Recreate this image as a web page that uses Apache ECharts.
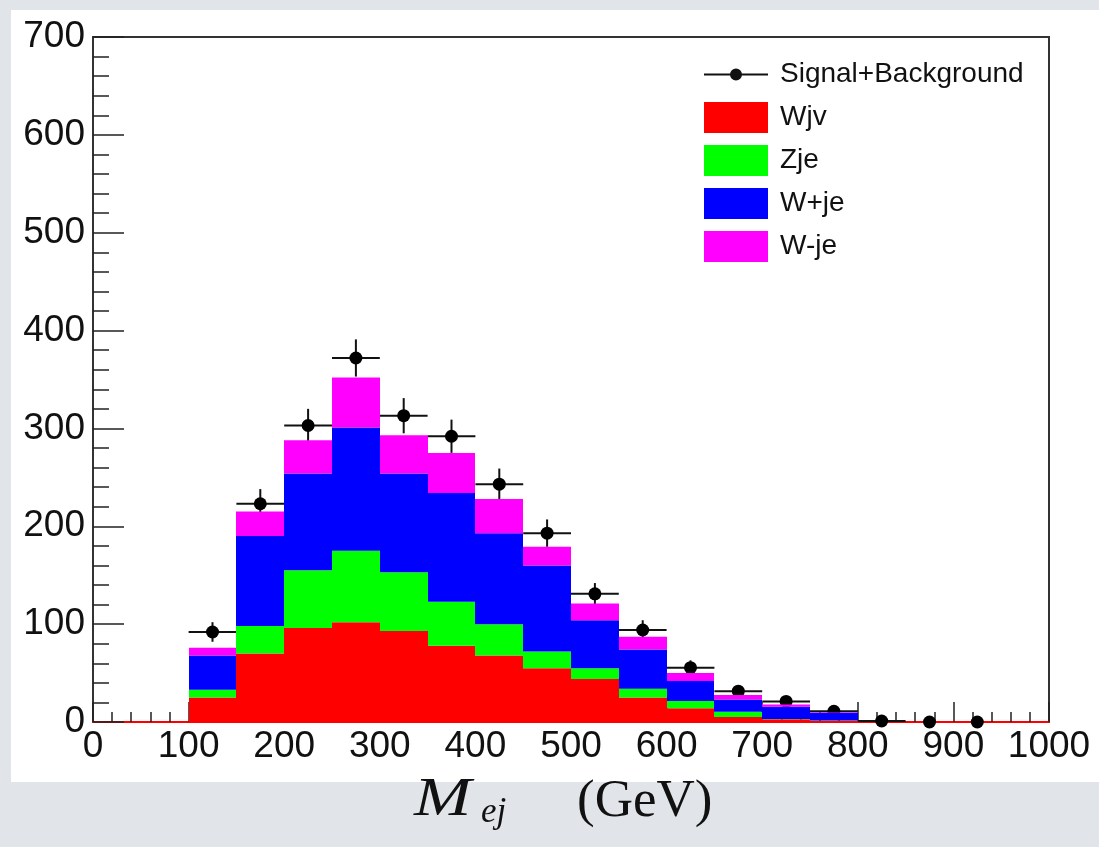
<!DOCTYPE html>
<html>
<head>
<meta charset="utf-8">
<script src="https://cdn.jsdelivr.net/npm/echarts@6/dist/echarts.min.js"></script>
<style>
    html, body { margin: 0; padding: 0; background: #e1e4e8; }
    #chart { width: 1099px; height: 847px; }
</style>
</head>
<body>
<div id="chart"></div>
<script>
// bins are 50 GeV wide, the numbers are the lower edges
const binStarts = [100, 150, 200, 250, 300, 350, 400, 450, 500, 550, 600, 650, 700, 750];
const binWidth = 50;

// stacked backgrounds, each value is the layer's own height
const wjv = [25, 70, 96, 102, 93, 78, 68, 55, 44, 25, 14, 5, 2.7, 1.4];
const zje = [8, 28, 59, 73, 60, 45, 32, 17, 11, 9, 7.5, 5.5, 0.3, 0.1];
const wPlusJe = [35, 92, 99, 126, 101, 111, 93, 88, 49, 40, 20.5, 12.5, 12.5, 8];
const wMinusJe = [8, 25, 34, 51, 39, 41, 35, 19, 17, 13, 8, 4.5, 2.5, 0.5];

// Signal+Background points (bin centres) and their vertical error bars
const pointX = [125, 175, 225, 275, 325, 375, 425, 475, 525, 575, 625, 675, 725, 775, 825, 875, 925];
const pointY = [92, 223, 303, 372, 313, 292, 243, 193, 131, 94, 55.5, 31.5, 21, 11, 1, 0, 0];
const pointErr = [10, 15, 17, 19, 18, 17, 16, 14, 11, 10, 7.5, 5.6, 4.6, 3.3, 1, 0, 0];

const xTicks = [0, 1000, 100];
const yTicks = [0, 700, 100];

const layers = [
    { name: 'Wjv', values: wjv, color: '#ff0000' },
    { name: 'Zje', values: zje, color: '#00ff00' },
    { name: 'W+je', values: wPlusJe, color: '#0000ff' },
    { name: 'W-je', values: wMinusJe, color: '#ff00ff' }
];

// [x0, x1, base, top] for each layer
const base = binStarts.map(() => 0);
const stackData = layers.map(layer => {
    return binStarts.map((x, i) => {
        const b = base[i];
        base[i] = b + layer.values[i];
        return [x, x + binWidth, b, base[i]];
    });
});

function histItem(params, api) {
    const p0 = api.coord([api.value(0), api.value(3)]);
    const p1 = api.coord([api.value(1), api.value(2)]);
    const x0 = Math.round(p0[0]), x1 = Math.round(p1[0]);
    return {
        type: 'rect',
        shape: { x: x0, y: p0[1], width: x1 - x0, height: p1[1] - p0[1] },
        style: { fill: api.visual('color') }
    };
}

function pointItem(params, api) {
    const x = api.value(0), y = api.value(1), e = api.value(2);
    const c = api.coord([x, y]);
    const children = [];
    if (y > 0) {
        const l = api.coord([x - binWidth / 2, y]);
        const r = api.coord([x + binWidth / 2, y]);
        const t = api.coord([x, y + e]);
        const b = api.coord([x, y - e]);
        children.push({ type: 'line', shape: { x1: l[0], y1: l[1], x2: r[0], y2: r[1] }, style: { stroke: '#111', lineWidth: 2 } });
        children.push({ type: 'line', shape: { x1: t[0], y1: t[1], x2: b[0], y2: b[1] }, style: { stroke: '#111', lineWidth: 2 } });
    }
    children.push({ type: 'circle', shape: { cx: c[0], cy: c[1], r: 6.5 }, style: { fill: '#000' } });
    return { type: 'group', children: children };
}

const labelFont = '"Liberation Sans", Arial, Helvetica, sans-serif';
const serif = '"Liberation Serif", "Times New Roman", serif';
const tickStyle = { color: '#222', width: 1.5 };

const chart = echarts.init(document.getElementById('chart'));

const series = layers.map((layer, k) => ({
    name: layer.name,
    type: 'custom',
    z: 3,
    renderItem: histItem,
    itemStyle: { color: layer.color },
    data: stackData[k],
    silent: true
}));
series.unshift({
    name: 'Signal+Background',
    type: 'custom',
    z: 2,
    clip: false,
    renderItem: pointItem,
    itemStyle: { color: '#000' },
    data: pointX.map((x, i) => [x, pointY[i], pointErr[i]]),
    silent: true
});

const option = {
    animation: false,
    backgroundColor: 'transparent',
    graphic: [
        { type: 'rect', z: -10, shape: { x: 11, y: 10, width: 1088, height: 772 }, style: { fill: '#fff' }, silent: true },
        { type: 'text', x: 414, y: 801, scaleX: 1.25, style: { text: 'M', font: 'italic 55px ' + serif, fill: '#111', verticalAlign: 'middle' } },
        { type: 'text', x: 481, y: 813, style: { text: 'ej', font: 'italic 35px ' + serif, fill: '#111', verticalAlign: 'middle' } },
        { type: 'text', x: 577, y: 802, style: { text: '(GeV)', font: '53px ' + serif, fill: '#111', verticalAlign: 'middle' } }
    ],
    legend: {
        orient: 'vertical',
        left: 704,
        top: 59,
        padding: 0,
        itemWidth: 64,
        itemHeight: 31,
        itemGap: 12,
        selectedMode: false,
        textStyle: { fontFamily: labelFont, fontSize: 28, color: '#111', padding: [0, 0, 0, 7] },
        data: [
            {
                name: 'Signal+Background',
                icon: 'path://M0,0h0.01v0.01h-0.01Z M63.99,30.99h0.01v0.01h-0.01Z M0,14.5h64v2h-64Z M26,15.5a6,6 0 1,1 12,0a6,6 0 1,1 -12,0Z',
                itemStyle: { color: '#111' }
            },
            { name: 'Wjv', icon: 'rect' },
            { name: 'Zje', icon: 'rect' },
            { name: 'W+je', icon: 'rect' },
            { name: 'W-je', icon: 'rect' }
        ]
    },
    grid: {
        left: 93,
        right: 50,
        top: 37,
        bottom: 125,
        show: true,
        borderColor: '#333',
        borderWidth: 2,
        backgroundColor: 'transparent'
    },
    xAxis: {
        type: 'value',
        min: xTicks[0],
        max: xTicks[1],
        interval: xTicks[2],
        splitLine: { show: false },
        axisLine: { lineStyle: { color: '#ff0000', width: 2 } },
        axisTick: { inside: true, length: 20, lineStyle: tickStyle },
        minorTick: { show: true, splitNumber: 5, length: 10, lineStyle: tickStyle },
        axisLabel: {
            fontFamily: labelFont, fontSize: 37, color: '#111', margin: 6,
            showMinLabel: true, showMaxLabel: true,
            formatter: v => String(v)
        }
    },
    yAxis: {
        type: 'value',
        min: yTicks[0],
        max: yTicks[1],
        interval: yTicks[2],
        splitLine: { show: false },
        axisLine: { lineStyle: { color: '#333', width: 2 } },
        axisTick: { inside: true, length: 31, lineStyle: tickStyle },
        minorTick: { show: true, splitNumber: 5, length: 16, lineStyle: tickStyle },
        axisLabel: { fontFamily: labelFont, fontSize: 37, color: '#111', margin: 8 }
    },
    series: series
};

chart.setOption(option);
</script>
</body>
</html>
